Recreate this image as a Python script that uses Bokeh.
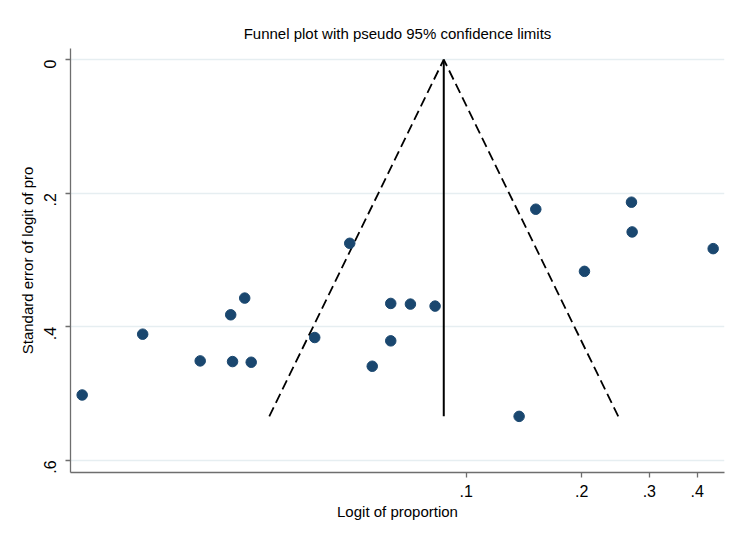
import numpy as np
from bokeh.plotting import figure
from bokeh.models import Range1d, FixedTicker
from bokeh.embed import file_html
from bokeh.resources import INLINE

# Study estimates: log of proportion and its standard error
log_prop = [-4.606, -4.243, -3.898, -3.715, -3.631, -3.704, -3.592, -3.211,
            -3.001, -2.866, -2.755, -2.755, -2.637, -2.489, -1.985, -1.885,
            -1.593, -1.311, -1.307, -0.821]
std_err = [0.502, 0.411, 0.451, 0.382, 0.357, 0.452, 0.453, 0.416,
           0.275, 0.459, 0.365, 0.421, 0.366, 0.369, 0.534, 0.224,
           0.317, 0.2135, 0.258, 0.283]
pooled = -2.437
z95 = 1.96

x_tick_props = [0.1, 0.2, 0.3, 0.4]
x_tick_labels = [".1", ".2", ".3", ".4"]
y_ticks = [0.0, 0.2, 0.4, 0.6]
y_tick_labels = ["0", ".2", ".4", ".6"]

FONT = "Liberation Sans"
GRID = "#e6eef1"
AXIS = "#6e6e6e"
NAVY = "#1a476f"

p = figure(width=728, height=526, output_backend="svg", toolbar_location=None,
           x_range=Range1d(-4.676, -0.753), y_range=Range1d(0.618, -0.0165),
           min_border_left=70, min_border_right=4, min_border_top=48,
           min_border_bottom=54,
           title="Funnel plot with pseudo 95% confidence limits")
p.outline_line_color = None
p.background_fill_color = "white"
p.border_fill_color = "white"

p.title.align = "center"
p.title.text_font = FONT
p.title.text_font_size = "15px"
p.title.text_font_style = "normal"
p.title.text_color = "black"
p.title.standoff = 13

x_ticks = [float(np.log(v)) for v in x_tick_props]
p.xaxis.ticker = FixedTicker(ticks=x_ticks)
p.xaxis.major_label_overrides = {t: l for t, l in zip(x_ticks, x_tick_labels)}
p.yaxis.ticker = FixedTicker(ticks=y_ticks)
p.yaxis.major_label_overrides = {t: l for t, l in zip(y_ticks, y_tick_labels)}

for ax in (p.xaxis[0], p.yaxis[0]):
    ax.axis_line_color = AXIS
    ax.axis_line_width = 1.3
    ax.major_tick_line_color = AXIS
    ax.major_tick_line_width = 1.3
    ax.major_tick_out = 5
    ax.major_tick_in = 0
    ax.minor_tick_line_color = None
    ax.major_label_text_font = FONT
    ax.major_label_text_font_size = "16px"
    ax.major_label_text_color = "black"
    ax.axis_label_text_font = FONT
    ax.axis_label_text_font_size = "15px"
    ax.axis_label_text_font_style = "normal"
    ax.axis_label_text_color = "black"

p.xaxis.axis_label = "Logit of proportion"
p.yaxis.axis_label = "Standard error of logit of pro"
p.yaxis.major_label_orientation = np.pi / 2
p.xaxis.major_label_standoff = 7
p.xaxis.axis_label_standoff = 3
p.yaxis.major_label_standoff = 15
p.yaxis.axis_label_standoff = 0

p.xgrid.grid_line_color = None
p.ygrid.grid_line_color = GRID
p.ygrid.grid_line_width = 1.3

se_max = max(std_err)
p.line([pooled - z95 * se_max, pooled], [se_max, 0], line_color="black",
       line_width=1.8, line_dash="10 5")
p.line([pooled + z95 * se_max, pooled], [se_max, 0], line_color="black",
       line_width=1.8, line_dash="10 5")
p.line([pooled, pooled], [0, se_max], line_color="black", line_width=2)

p.scatter(log_prop, std_err, size=10.5, fill_color=NAVY, line_color=NAVY)

open("out.html", "w").write(file_html(p, INLINE))
